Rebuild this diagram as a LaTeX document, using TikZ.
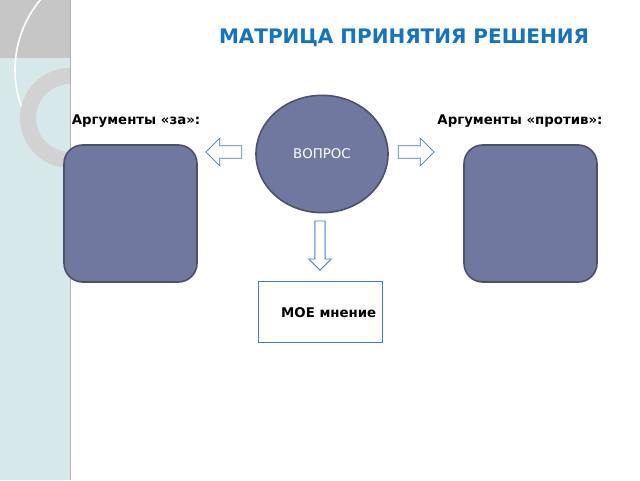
\documentclass[tikz,border=0pt]{standalone}
\usepackage{fontspec}
\setmainfont{DejaVu Sans}
\usetikzlibrary{shapes.arrows, shapes.geometric}
\definecolor{bluegrey}{RGB}{112,120,160}
\definecolor{edgegrey}{RGB}{75,80,110}
\definecolor{titleblue}{RGB}{20,115,195}
\definecolor{arrowblue}{RGB}{70,120,210}
\definecolor{strip}{RGB}{214,232,234}
\tikzset{
  pane/.style={draw=edgegrey, line width=1.2pt, fill=bluegrey, rounded corners=14pt},
  hollow/.style={single arrow, draw=arrowblue, fill=white, line width=0.6pt,
    minimum height=27pt, minimum width=21pt, single arrow head extend=4pt, inner sep=3pt},
  lbl/.style={font=\bfseries\fontsize{10}{12}\selectfont}
}
\begin{document}
\begin{tikzpicture}[x=0.75pt,y=-0.75pt]
      \useasboundingbox (0,0) rectangle (640,480);

      % DECORATIVE STRIP
      \begin{scope}
        \clip (0,0) rectangle (70,480);
        \fill[strip] (0,0) rectangle (70,480);
        \fill[gray!45] (0,0) rectangle (70,58);
        \draw[white, line width=1.2pt] (125,70) circle (110);
        \draw[gray!35, line width=12pt] (70,118) circle (42);
      \end{scope}
      \draw[gray!60] (70,0) -- (70,480);

      % TITLE
      \node[font=\bfseries\fontsize{15}{18}\selectfont, text=titleblue] (title) at (404,38) {МАТРИЦА ПРИНЯТИЯ РЕШЕНИЯ};

      % QUESTION
      \node[ellipse, draw=edgegrey, line width=1.2pt, fill=bluegrey, minimum width=99pt, minimum height=88pt,
        text=white, font=\fontsize{10}{12}\selectfont] (vopros) at (322,154) {ВОПРОС};

      % ARGUMENTS
      \node[lbl] (pro) at (136,121) {Аргументы «за»:};
      \node[lbl] (contra) at (520,121) {Аргументы «против»:};
      \draw[pane] (64,145) rectangle (197,282);
      \draw[pane] (464,145) rectangle (597,282);

      % ARROWS
      \node[hollow, shape border rotate=180] (toPro) at (227,152) {};
      \node[hollow] (toContra) at (413,152) {};
      \node[hollow, shape border rotate=270, minimum height=37pt, minimum width=17pt] (toMine) at (320,243) {};

      % OPINION
      \draw[arrowblue, line width=0.6pt] (258,281) rectangle (382,342);
      \node[font=\bfseries\fontsize{10}{12}\selectfont, anchor=east] (mine) at (381,313) {МОЕ мнение};
\end{tikzpicture}
\end{document}
